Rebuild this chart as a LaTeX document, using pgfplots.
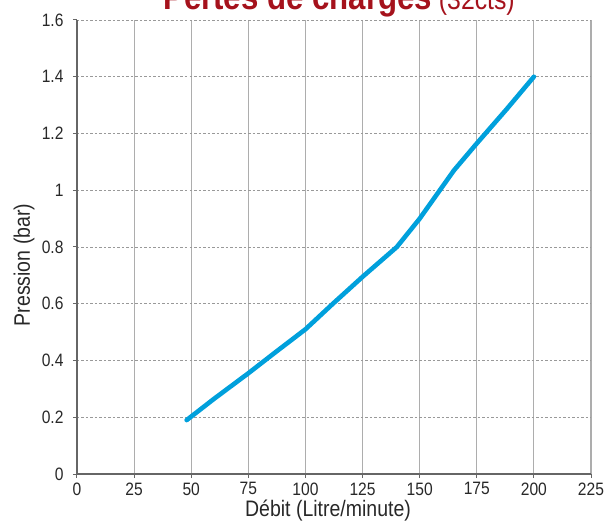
\documentclass[border=0pt]{standalone}
\usepackage{pgfplots}
\pgfplotsset{compat=1.18}
\usepackage{fontspec}
\setmainfont{Liberation Sans}[FakeStretch=0.87]
\definecolor{titlered}{RGB}{165,18,28}
\definecolor{linecyan}{RGB}{0,160,220}
\definecolor{txt}{RGB}{40,40,40}
\begin{document}
\begin{tikzpicture}
\begin{axis}[
  scale only axis,
  width=514bp, height=454bp,
  xmin=0, xmax=225, ymin=0, ymax=1.6,
  xtick={0,25,50,75,100,125,150,175,200,225},
  ytick={0,0.2,0.4,0.6,0.8,1,1.2,1.4,1.6},
  yticklabels={0,0.2,0.4,0.6,0.8,1,1.2,1.4,1.6},
  axis x line=bottom, axis y line=left,
  axis line style={-, draw=black!60, line width=1.3bp},
  tick align=outside, major tick length=4bp,
  tick style={draw=black!60, line width=1bp},
  x grid style={draw=black!32, line width=1.2bp},
  y grid style={draw=black!40, line width=0.7bp, dash pattern=on 2.5bp off 2bp},
  xmajorgrids, ymajorgrids,
  /pgf/number format/assume math mode=true,
  tick label style={font=\fontsize{18}{18}\selectfont, text=txt},
  xticklabel style={yshift=-1bp},
  yticklabel style={xshift=-6bp},
  xlabel={Débit (Litre/minute)},
  ylabel={Pression (bar)},
  xlabel style={font=\fontsize{22.5}{22.5}\selectfont, text=txt, at={(axis description cs:0.5,0)}, anchor=center, yshift=-37bp, xshift=-6bp},
  ylabel style={font=\fontsize{22.5}{22.5}\selectfont, text=txt, at={(axis description cs:0,0.5)}, anchor=center, yshift=53bp, xshift=-18bp},
  clip=false,
]
\addplot[linecyan, line width=4.6bp, line cap=round, line join=round] coordinates {
(48,0.19) (60,0.265) (75,0.355) (87,0.43) (100,0.51) (112,0.6) (125,0.695) (140,0.80) (150,0.90) (165,1.07) (175,1.165) (188,1.285) (200,1.40)
};
\coordinate (ll) at (rel axis cs:0,0);
\coordinate (ur) at (rel axis cs:1,1);
\coordinate (tc) at (rel axis cs:0.5,1);
\end{axis}
\node[anchor=base, inner sep=0pt] at ([xshift=5bp,yshift=10bp]tc)
  {\textcolor{titlered}{\fontsize{36}{36}\selectfont\bfseries Pertes de charges}\textcolor{titlered}{\fontsize{28.6}{28.6}\selectfont\ (32cts)}};
\pgfresetboundingbox
\path[use as bounding box] ([xshift=-77bp,yshift=-50bp]ll) rectangle ([xshift=20bp,yshift=20bp]ur);
\end{tikzpicture}
\end{document}
